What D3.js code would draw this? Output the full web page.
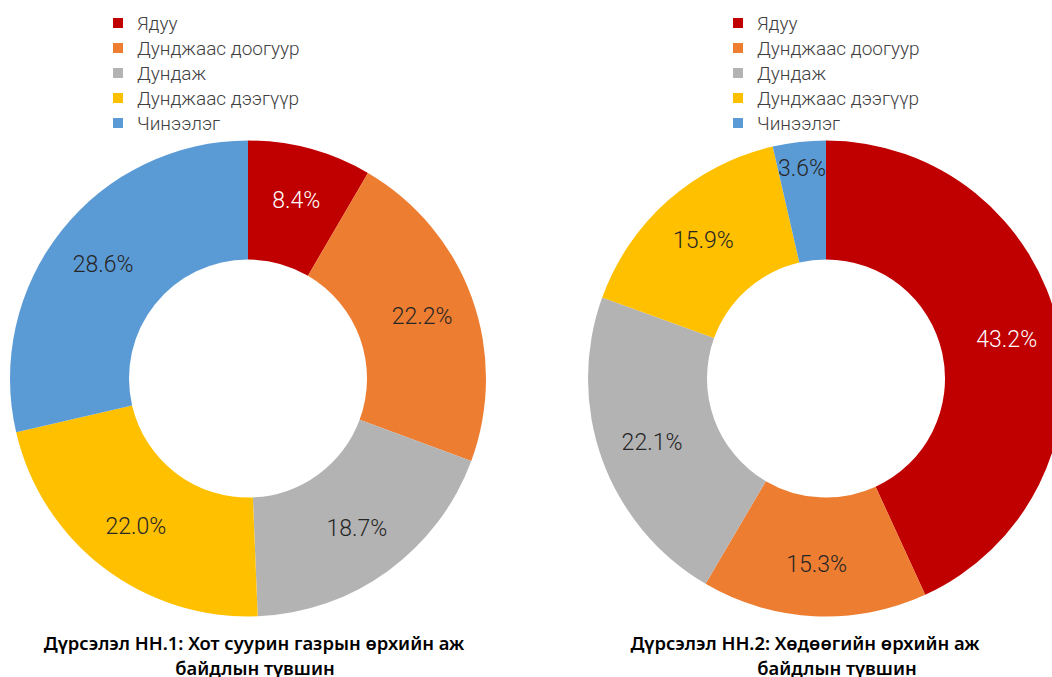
<!DOCTYPE html>
<html><head><meta charset="utf-8">
<script src="https://cdn.jsdelivr.net/npm/d3@7"></script>
<style>body{margin:0;background:#fff}svg{display:block}</style>
</head><body>
<svg id="c" width="1052" height="677"></svg>
<script>
const categories = ["Ядуу", "Дунджаас доогуур", "Дундаж", "Дунджаас дээгүүр", "Чинээлэг"];
const urbanValues = [8.4, 22.2, 18.7, 22.0, 28.6];
const ruralValues = [43.2, 15.3, 22.1, 15.9, 3.6];
const colors = ["#C00000", "#ED7D31", "#B3B3B3", "#FFC000", "#5B9BD5"];
const labelColors = ["#ffffff", "#262626", "#262626", "#262626", "#262626"];
const titles = [
  ["Дүрсэлэл НН.1: Хот суурин газрын өрхийн аж", "байдлын түвшин"],
  ["Дүрсэлэл НН.2: Хөдөөгийн өрхийн аж", "байдлын түвшин"]
];

const svg = d3.select("#c");
const color = d3.scaleOrdinal().domain(categories).range(colors);
const lblColor = d3.scaleOrdinal().domain(categories).range(labelColors);

const charts = [
  {values: urbanValues, cx: 248, cy: 378.5, legX: 113, title: titles[0], tx: [254, 255]},
  {values: ruralValues, cx: 826, cy: 378.5, legX: 733, title: titles[1], tx: [805, 837]}
];

const pie = d3.pie().sort(null).value(d => d.v);
const rOuter = 238, rInner = 119;
const arc = d3.arc().innerRadius(rInner).outerRadius(rOuter);

charts.forEach(ch => {
  const data = categories.map((c, i) => ({c, v: ch.values[i]}));
  const g = svg.append("g").attr("transform", `translate(${ch.cx},${ch.cy})`);
  const arcs = pie(data);
  g.selectAll("path").data(arcs).join("path")
    .attr("d", arc).attr("fill", d => color(d.data.c));
  g.selectAll("text").data(arcs).join("text")
    .attr("transform", d => {
      const r = d.data.v < 5 ? 212 : 185;
      const a = (d.startAngle + d.endAngle) / 2;
      return `translate(${r * Math.sin(a)},${-r * Math.cos(a)})`;
    })
    .attr("text-anchor", "middle").attr("dy", "0.36em")
    .attr("font-family", "Roboto, sans-serif").attr("font-weight", 300)
    .attr("font-size", 23)
    .attr("fill", d => lblColor(d.data.c))
    .text(d => d.data.v.toFixed(1) + "%");

  const leg = svg.append("g").attr("transform", `translate(${ch.legX},0)`);
  const row = leg.selectAll("g").data(categories).join("g")
    .attr("transform", (d, i) => `translate(0,${23 + i * 25})`);
  row.append("rect").attr("x", 0).attr("y", -5).attr("width", 10).attr("height", 10)
    .attr("fill", d => color(d));
  row.append("text").attr("x", 24).attr("dy", "0.36em")
    .attr("font-family", "Roboto, sans-serif").attr("font-weight", 300)
    .attr("font-size", 19).attr("fill", "#404040").text(d => d);

  ch.title.forEach((t, i) => {
    svg.append("text").attr("x", ch.tx[i]).attr("y", 650 + i * 25)
      .attr("text-anchor", "middle")
      .attr("font-family", "'Noto Sans', sans-serif").attr("font-weight", 600)
      .attr("font-size", 18.4).attr("fill", "#000").text(t);
  });
});
</script>
</body></html>
